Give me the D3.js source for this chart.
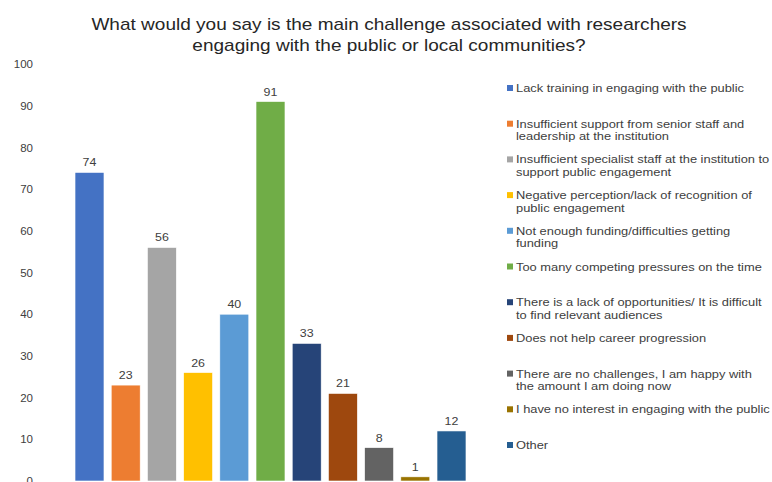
<!DOCTYPE html>
<html>
<head>
<meta charset="utf-8">
<script src="https://cdn.jsdelivr.net/npm/d3@7"></script>
<style>
  body { margin: 0; background: #fff; }
  svg { display: block; font-family: "Liberation Sans", Arial, sans-serif; }
</style>
</head>
<body>
<svg id="chart"></svg>
<script>
// categories (| marks the legend line break)
const categories = [
    "Lack training in engaging with the public",
    "Insufficient support from senior staff and|leadership at the institution",
    "Insufficient specialist staff at the institution to|support public engagement",
    "Negative perception/lack of recognition of|public engagement",
    "Not enough funding/difficulties getting|funding",
    "Too many competing pressures on the time",
    "There is a lack of opportunities/ It is difficult|to find relevant audiences",
    "Does not help career progression",
    "There are no challenges, I am happy with|the amount I am doing now",
    "I have no interest in engaging with the public",
    "Other"
];
const values = [74, 23, 56, 26, 40, 91, 33, 21, 8, 1, 12];
const colors = ["#4472C4", "#ED7D31", "#A5A5A5", "#FFC000", "#5B9BD5", "#70AD47",
                "#264478", "#9E480E", "#636363", "#997300", "#255E91"];
const yTicks = [0, 10, 20, 30, 40, 50, 60, 70, 80, 90, 100];
const titleLines = [
    "What would you say is the main challenge associated with researchers",
    "engaging with the public or local communities?"
];

const width = 772, height = 482;
// the source picture is a little stretched sideways
const stretch = 1.12;
const svg = d3.select("#chart").attr("width", width).attr("height", height);

const xScale = d3.scaleBand()
    .domain(d3.range(values.length))
    .range([71.4, 469.6])
    .paddingInner(0.2)
    .paddingOuter(0.1);

const yScale = d3.scaleLinear().domain([0, 100]).range([481, 64]);

// title
svg.append("g").selectAll("text")
    .data(titleLines)
    .join("text")
    .attr("transform", (d, i) => `translate(389, ${30 + i * 21}) scale(${stretch}, 1)`)
    .attr("text-anchor", "middle")
    .attr("font-size", "17px")
    .attr("fill", "#262626")
    .text(d => d);

// y axis (labels only)
const yAxis = svg.append("g")
    .attr("transform", "translate(33,0)")
    .call(d3.axisLeft(yScale).tickValues(yTicks).tickSize(0).tickPadding(0));
yAxis.select(".domain").remove();
yAxis.selectAll("text")
    .attr("font-size", "11.5px")
    .attr("font-family", "Liberation Sans, Arial, sans-serif")
    .attr("fill", "#404040");

// bars
svg.append("g").selectAll("rect")
    .data(values)
    .join("rect")
    .attr("x", (d, i) => xScale(i))
    .attr("y", d => yScale(d))
    .attr("width", xScale.bandwidth())
    .attr("height", d => yScale(0) - yScale(d))
    .attr("fill", (d, i) => colors[i])
    .attr("stroke", "#ffffff")
    .attr("stroke-width", 0.6);

// value labels
svg.append("g").selectAll("text")
    .data(values)
    .join("text")
    .attr("transform", (d, i) => `translate(${xScale(i) + xScale.bandwidth() / 2}, ${yScale(d) - 6}) scale(1.08, 1)`)
    .attr("text-anchor", "middle")
    .attr("font-size", "11.5px")
    .attr("fill", "#404040")
    .text(d => d);

// legend
const legendY = d3.scaleLinear().domain([0, categories.length - 1]).range([88, 445]);
const legend = svg.append("g");
const items = legend.selectAll("g")
    .data(categories)
    .join("g")
    .attr("transform", (d, i) => `translate(507, ${legendY(i)})`);

items.append("rect")
    .attr("x", 0)
    .attr("y", -3)
    .attr("width", 6)
    .attr("height", 6)
    .attr("fill", (d, i) => colors[i]);

items.append("text")
    .attr("transform", `translate(9, 0) scale(${stretch}, 1)`)
    .attr("font-size", "11.5px")
    .attr("fill", "#404040")
    .selectAll("tspan")
    .data(d => d.split("|"))
    .join("tspan")
    .attr("x", 0)
    .attr("y", (d, i) => 4 + i * 12.5)
    .text(d => d);
</script>
</body>
</html>
